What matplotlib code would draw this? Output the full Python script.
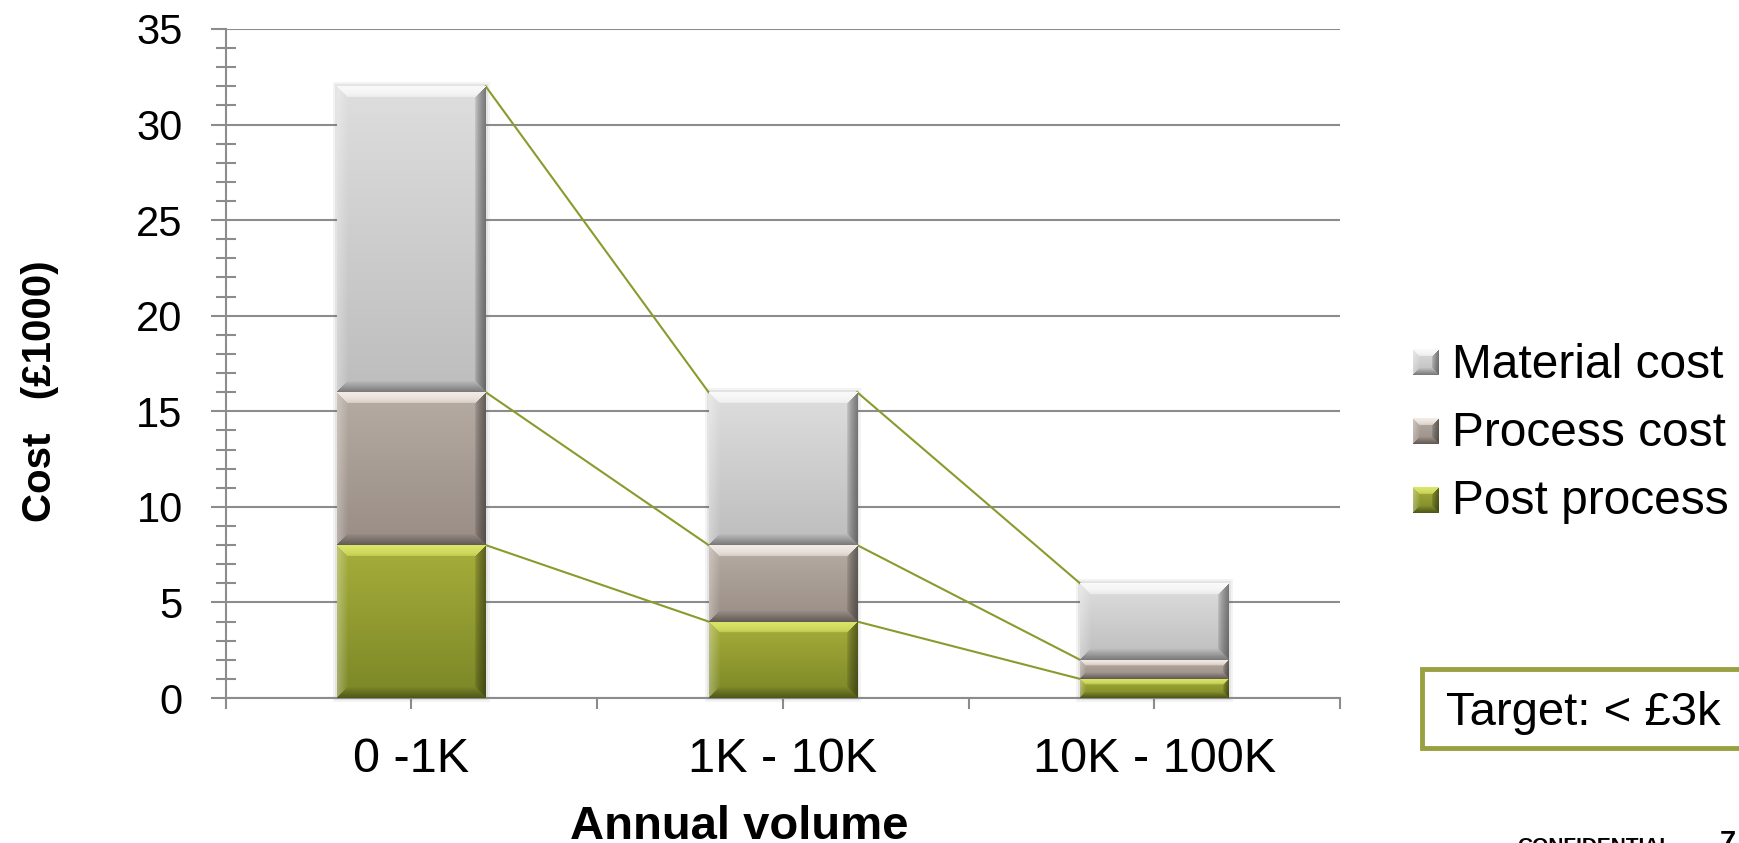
import numpy as np
import matplotlib
matplotlib.use("Agg")
import matplotlib.pyplot as plt
from matplotlib.patches import Rectangle
from matplotlib.ticker import MultipleLocator, FixedLocator

plt.rcParams['font.family'] = ['Liberation Sans', 'DejaVu Sans']

categories = ['0 -1K', '1K - 10K', '10K - 100K']
post_process = [8, 4, 1]
process_cost = [8, 4, 1]
material_cost = [16, 8, 4]
series_names = ['Material cost', 'Process cost', 'Post process']

# (top, bottom, highlight) colours for each stacked layer, bottom layer first
layer_colors = [
    ('#a6ae3a', '#7b8727', '#dde96a'),   # post process
    ('#b6aca3', '#998d85', '#f6eee8'),   # process cost
    ('#dedede', '#bdbdbd', '#fbfbfb'),   # material cost
]
grid_color = '#8c8c8c'
link_color = '#8b9a2d'

W, H, DPI = 1739, 843, 100
BAR_W = 0.4


def hex_rgb(c):
    c = c.lstrip('#')
    return np.array([int(c[i:i + 2], 16) / 255 for i in (0, 2, 4)])


def bevel(top, bottom, hi, w, h, b):
    """RGB array for a bevelled, vertically graded block."""
    w, h = max(int(round(w)), 2), max(int(round(h)), 2)
    yy, xx = np.mgrid[0:h, 0:w]
    t = (yy / (h - 1))[..., None]
    base = hex_rgb(top) * (1 - t) + hex_rgb(bottom) * t
    d = np.stack([yy, h - 1 - yy, xx, w - 1 - xx]).astype(float)
    face = d.argmin(axis=0)
    ramp = np.clip(1 - d.min(axis=0) / b, 0, 1)
    out = base.copy()
    targets = [(hex_rgb(hi), 0.95 * ramp ** 0.25),
               (np.zeros(3), 0.35 * ramp),
               (np.ones(3), 0.30 * ramp),
               (np.zeros(3), 0.45 * ramp ** 0.6)]
    for k, (tgt, a) in enumerate(targets):
        m = face == k
        a = a[m][:, None]
        out[m] = base[m] * (1 - a) + tgt * a
    return np.clip(out, 0, 1)


fig = plt.figure(figsize=(W / DPI, H / DPI), dpi=DPI)
ax_l, ax_r, ax_t, ax_b = 225.7, 1340, 29, 698
ax = fig.add_axes([ax_l / W, (H - ax_b) / H, (ax_r - ax_l) / W, (ax_b - ax_t) / H])

px_x = (ax_r - ax_l) / 3.0
px_y = (ax_b - ax_t) / 35.0

layers = [post_process, process_cost, material_cost]
x = np.arange(len(categories))
bottoms = np.zeros(len(categories))
tops = []
for vals, (ctop, cbot, chi) in zip(layers, layer_colors):
    vals = np.array(vals, dtype=float)
    for xi, b0, v in zip(x, bottoms, vals):
        hp = v * px_y
        img = bevel(ctop, cbot, chi, BAR_W * px_x, hp, min(11, hp * 0.3))
        ax.imshow(img, extent=[xi - BAR_W / 2, xi + BAR_W / 2, b0, b0 + v],
                  aspect='auto', zorder=3, interpolation='bilinear')
    bottoms = bottoms + vals
    tops.append(bottoms.copy())

# soft shadow behind each stack
for xi, tot in zip(x, bottoms):
    for grow, alpha in [(4, 0.07), (2, 0.10)]:
        ax.add_patch(Rectangle((xi - BAR_W / 2 - grow / px_x, -grow / px_y),
                               BAR_W + 2 * grow / px_x, tot + 2 * grow / px_y,
                               facecolor='#606060', edgecolor='none',
                               alpha=alpha, zorder=2.5, clip_on=False))

# series lines joining the layer tops
for top in tops:
    for i in range(len(x) - 1):
        ax.plot([x[i] + BAR_W / 2, x[i + 1] - BAR_W / 2], [top[i], top[i + 1]],
                color=link_color, lw=1.5, zorder=2.8)

ax.set_xlim(-0.5, 2.5)
ax.set_ylim(0, 35)

for s in ['top', 'right']:
    ax.spines[s].set_visible(False)
for s in ['left', 'bottom']:
    ax.spines[s].set_color(grid_color)
    ax.spines[s].set_linewidth(1.5)

ax.yaxis.set_major_locator(MultipleLocator(5))
ax.yaxis.set_minor_locator(MultipleLocator(1))
ax.grid(axis='y', which='major', color=grid_color, lw=1.5, zorder=1)
ax.set_axisbelow(True)
ax.tick_params(axis='y', which='major', direction='out', length=11, width=1.5,
               color=grid_color, labelsize=30, pad=20)
ax.tick_params(axis='y', which='minor', direction='inout', length=15, width=1.5,
               color=grid_color)

ax.xaxis.set_major_locator(FixedLocator([-0.5, 0.5, 1.5, 2.5]))
ax.xaxis.set_minor_locator(FixedLocator(x))
ax.set_xticklabels([], minor=False)
ax.set_xticklabels(categories, minor=True)
ax.tick_params(axis='x', which='major', direction='out', length=8, width=1.5,
               color=grid_color)
ax.tick_params(axis='x', which='minor', direction='inout', length=16, width=1.5,
               color=grid_color, labelsize=35, pad=20)

fig.text(40 / W, 1 - 391 / H, 'Cost   (£1000)', rotation=90, ha='center',
         va='center', fontsize=29, weight='bold')
fig.text(739 / W, 1 - 839 / H, 'Annual volume', ha='center', va='baseline',
         fontsize=34, weight='bold')

# legend, top entry = top layer
legend_rows = [(series_names[0], layer_colors[2], 362, 378),
               (series_names[1], layer_colors[1], 431, 446),
               (series_names[2], layer_colors[0], 500, 514)]
for name, (ctop, cbot, chi), yc, base in legend_rows:
    sq = bevel(ctop, cbot, chi, 26, 26, 7)
    fig.figimage(sq, xo=1413, yo=H - yc - 13, origin='upper', zorder=5)
    fig.text(1452 / W, 1 - base / H, name, fontsize=34.5, va='baseline', ha='left')

fig.add_artist(Rectangle((1422 / W, 1 - 748 / H), 400 / W, 79 / H,
                         transform=fig.transFigure, facecolor='white',
                         edgecolor='#98a040', lw=3.5, clip_on=False))
fig.text(1446 / W, 1 - 725 / H, 'Target: < £3k', fontsize=34, va='baseline')

fig.text(1517 / W, 1 - 837 / H, 'CONFIDENTIAL', fontsize=15, weight='bold', va='top')
fig.text(1720 / W, 1 - 829 / H, '7', fontsize=21, weight='bold', va='top')

fig.savefig('out.png', dpi=DPI)
